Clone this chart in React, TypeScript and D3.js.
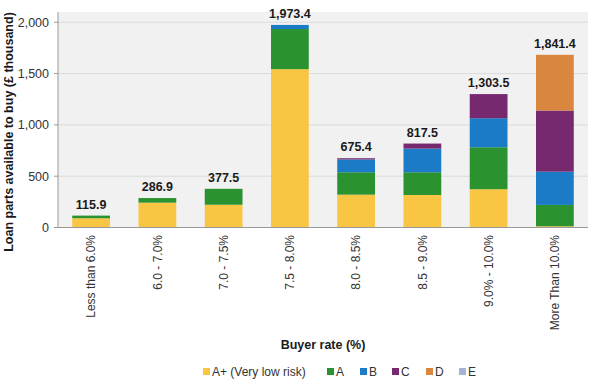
import React from 'react';
import * as d3 from 'd3';

const categories = ['Less than 6.0%', '6.0 - 7.0%', '7.0 - 7.5%', '7.5 - 8.0%', '8.0 - 8.5%', '8.5 - 9.0%', '9.0% - 10.0%', 'More Than 10.0%'];
const totals = [115.9, 286.9, 377.5, 1973.4, 675.4, 817.5, 1303.5, 1841.4];
const gradeAPlus = [90, 242, 222, 1543, 320, 317, 373, 12];
const gradeA = [26, 45, 155, 391, 218, 221, 409, 208];
const gradeB = [0, 0, 0, 40, 125, 231, 283, 324];
const gradeC = [0, 0, 0, 0, 12, 49, 235, 596];
const gradeD = [0, 0, 0, 0, 0, 0, 0, 543];
const gradeE = [0, 0, 0, 0, 0, 0, 0, 0];
const grades = ['A+ (Very low risk)', 'A', 'B', 'C', 'D', 'E'];
const yTicks = [0, 500, 1000, 1500, 2000];

const colors = ['#f9c643', '#2a922e', '#1b7bc7', '#76296e', '#d9873f', '#a3b4d8'];

const W = 600;
const H = 387;
const plot = { left: 58, right: 588, top: 12, bottom: 227.5 };
const font = 'Arial, "Liberation Sans", sans-serif';

const App: React.FC = () => {
  const series = [gradeAPlus, gradeA, gradeB, gradeC, gradeD, gradeE];
  const rows = categories.map((c, i) => {
    const r: Record<string, number | string> = { cat: c };
    grades.forEach((g, k) => { r[g] = series[k][i]; });
    return r;
  });
  const stacked = d3.stack<Record<string, number | string>>().keys(grades)(rows as any);

  const x = d3.scaleBand().domain(categories).range([plot.left, plot.right]).paddingInner(0.43).paddingOuter(0.215);
  const y = d3.scaleLinear().domain([0, 2100]).range([plot.bottom, plot.top]);
  const fmt = d3.format(',.1f');

  // legend layout
  const legendX = [203, 327, 360, 392, 426, 459];

  return (
    <svg width={W} height={H} style={{ position: 'absolute', left: 0, top: 0, background: '#fff' }} fontFamily={font}>
      <rect x={plot.left} y={plot.top} width={plot.right - plot.left} height={plot.bottom - plot.top} fill="#f1f1f1" />
      {yTicks.map(t => (
        <g key={t}>
          {t > 0 && <line x1={plot.left} x2={plot.right} y1={y(t)} y2={y(t)} stroke="#dadada" strokeWidth={1} />}
          <line x1={plot.left - 4} x2={plot.left} y1={y(t)} y2={y(t)} stroke="#999" />
          <text x={49} y={y(t)} dy="0.35em" textAnchor="end" fontSize={12.5} fill="#333">{d3.format(',')(t)}</text>
        </g>
      ))}
      {stacked.map((s, k) => (
        <g key={s.key} fill={colors[k]}>
          {s.map((d, i) => d[1] - d[0] > 0 ? (
            <rect key={i} x={x(categories[i])} width={x.bandwidth()} y={y(d[1])} height={y(d[0]) - y(d[1])} />
          ) : null)}
        </g>
      ))}
      <line x1={plot.left} x2={plot.left} y1={plot.top} y2={plot.bottom} stroke="#999" />
      <line x1={plot.left} x2={plot.right} y1={plot.bottom} y2={plot.bottom} stroke="#999" />
      {categories.map((c, i) => {
        const top = stacked[stacked.length - 1][i][1];
        const cx = (x(c) ?? 0) + x.bandwidth() / 2;
        return (
          <g key={c}>
            <text x={cx} y={y(top) - 7} textAnchor="middle" fontSize={12.5} fontWeight="bold" fill="#1a1a1a">{fmt(totals[i])}</text>
            <text transform={`translate(${cx},235) rotate(-90)`} dy="0.35em" textAnchor="end" fontSize={12} fill="#333">{c}</text>
          </g>
        );
      })}
      <text transform="translate(9,132) rotate(-90)" dy="0.35em" textAnchor="middle" fontSize={12.5} fontWeight="bold" fill="#1a1a1a">Loan parts available to buy (£ thousand)</text>
      <text x={323} y={345} dy="0.35em" textAnchor="middle" fontSize={12.5} fontWeight="bold" fill="#1a1a1a">Buyer rate (%)</text>
      {grades.map((g, k) => (
        <g key={g}>
          <rect x={legendX[k]} y={368} width={7} height={7} fill={colors[k]} />
          <text x={legendX[k] + 9} y={372} dy="0.35em" fontSize={12} fill="#333">{g}</text>
        </g>
      ))}
    </svg>
  );
};

export default App;
